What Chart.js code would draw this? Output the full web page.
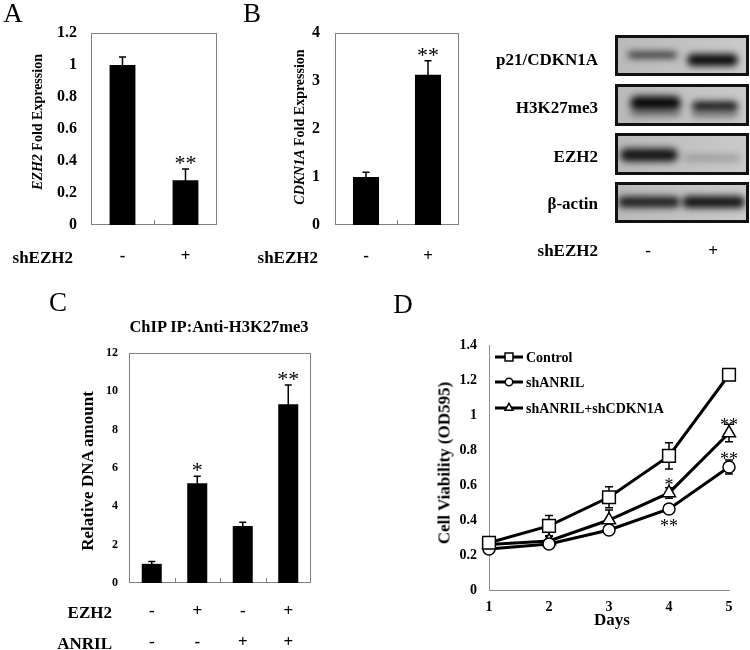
<!DOCTYPE html>
<html>
<head>
<meta charset="utf-8">
<script src="https://cdn.jsdelivr.net/npm/chart.js@4.4.1/dist/chart.umd.min.js"></script>
<style>
  body { margin: 0; background: #fff; }
  #fig { position: relative; width: 750px; height: 650px; overflow: hidden; background: #fff;
         font-family: 'Times New Roman', 'Liberation Serif', serif; color: #000; }
  #fig canvas { position: absolute; left: 0; top: 0; }
  #fig #blot { left: 610px; top: 30px; }
  .txt { position: absolute; white-space: nowrap; line-height: 1; font-weight: bold; }
</style>
</head>
<body>
<div id="fig">
  <canvas id="chartA" width="750" height="650"></canvas>
  <canvas id="chartB" width="750" height="650"></canvas>
  <canvas id="chartC" width="750" height="650"></canvas>
  <canvas id="chartD" width="750" height="650"></canvas>
  <canvas id="blot" width="140" height="200"></canvas>
</div>
<script>
// ---- data ----
// A: EZH2 expression
const shLabels = ['-', '+'];
const ezh2Expr = [1.0, 0.28];
const ezh2Err = [0.05, 0.07];
const ezh2Stars = ['', '**'];
// B: CDKN1A expression
const cdkn1aExpr = [1.0, 3.13];
const cdkn1aErr = [0.1, 0.29];
const cdkn1aStars = ['', '**'];
// C: ChIP
const chipEzh2 = ['-', '+', '-', '+'];
const chipAnril = ['-', '-', '+', '+'];
const chipDna = [1.0, 5.2, 2.97, 9.33];
const chipErr = [0.12, 0.37, 0.2, 1.0];
const chipStars = ['', '*', '', '**'];
// D: cell viability
const days = [1, 2, 3, 4, 5];
const viaControl = [0.27, 0.366, 0.53, 0.766, 1.23];
const viaShAnril = [0.234, 0.263, 0.343, 0.463, 0.703];
const viaShBoth = [0.26, 0.28, 0.40, 0.555, 0.897];
const errControl = [0.02, 0.06, 0.06, 0.075, 0.02];
const errShAnril = [0.02, 0.01, 0.02, 0.015, 0.04];
const errShBoth = [0.03, 0.03, 0.057, 0.03, 0.05];
const starsD = [
  { day: 4, od: 0.617, text: '*' },
  { day: 4, od: 0.383, text: '**' },
  { day: 5, od: 0.96, text: '**' },
  { day: 5, od: 0.766, text: '**' }
];
// blot
const blotRows = ['p21/CDKN1A', 'H3K27me3', 'EZH2', '\u03b2-actin'];

const SERIF = "'Times New Roman', 'Liberation Serif', serif";
Chart.defaults.font.family = SERIF;
Chart.defaults.color = '#000';

const valueOf = (d) => (typeof d === 'number' ? d : d.y);
const plainTick = (v) => String(parseFloat(Number(v).toFixed(2)));

// box around plot + small inner ticks between categories
const frame = {
  id: 'frame',
  beforeDatasetsDraw(chart) {
    const { ctx, chartArea: a, scales: { x } } = chart;
    ctx.save();
    ctx.strokeStyle = '#808080';
    ctx.lineWidth = 1;
    ctx.strokeRect(a.left + 0.5, a.top + 0.5, a.right - a.left - 1, a.bottom - a.top - 1);
    const n = chart.data.labels.length;
    for (let i = 1; i < n; i++) {
      const px = Math.round((x.getPixelForValue(i - 1) + x.getPixelForValue(i)) / 2) + 0.5;
      ctx.beginPath();
      ctx.moveTo(px, a.bottom);
      ctx.lineTo(px, a.bottom - 5);
      ctx.stroke();
    }
    ctx.restore();
  }
};

const errorBars = {
  id: 'errorBars',
  beforeDatasetsDraw(chart, args, opts) {
    const ctx = chart.ctx;
    const y = chart.scales.y;
    chart.data.datasets.forEach((ds, di) => {
      if (!ds.err) return;
      const meta = chart.getDatasetMeta(di);
      ctx.save();
      ctx.strokeStyle = '#000';
      ctx.lineWidth = opts.width || 1.5;
      meta.data.forEach((el, i) => {
        const e = ds.err[i];
        if (!e) return;
        const v = valueOf(ds.data[i]);
        const hi = y.getPixelForValue(v + e), lo = y.getPixelForValue(v - e);
        const c = opts.cap || 4;
        ctx.beginPath();
        ctx.moveTo(el.x, lo); ctx.lineTo(el.x, hi);
        ctx.moveTo(el.x - c, hi); ctx.lineTo(el.x + c, hi);
        ctx.moveTo(el.x - c, lo); ctx.lineTo(el.x + c, lo);
        ctx.stroke();
      });
      ctx.restore();
    });
  }
};

const barStars = {
  id: 'barStars',
  afterDatasetsDraw(chart) {
    const ctx = chart.ctx;
    const y = chart.scales.y;
    const ds = chart.data.datasets[0];
    const meta = chart.getDatasetMeta(0);
    ctx.save();
    ctx.font = '22px ' + SERIF;
    ctx.textAlign = 'center';
    ctx.textBaseline = 'alphabetic';
    ctx.fillStyle = '#000';
    meta.data.forEach((el, i) => {
      if (!ds.stars[i]) return;
      const top = y.getPixelForValue(ds.data[i] + ds.err[i]);
      ctx.fillText(ds.stars[i], el.x, top + 1);
    });
    ctx.restore();
  }
};

function barChart(id, box, labels, values, errs, stars, yMax, yStep, tickSize, tickPad, barPct, xPad, lineH) {
  const [left, top, right, bottom] = box;
  const yW = 60, xH = 70;
  return new Chart(document.getElementById(id), {
    type: 'bar',
    data: {
      labels: labels,
      datasets: [{ data: values, err: errs, stars: stars, backgroundColor: '#000', borderWidth: 0,
                   barPercentage: barPct, categoryPercentage: 1 }]
    },
    options: {
      responsive: false,
      animation: false,
      events: [],
      layout: { padding: { left: left - yW, top: top, right: 750 - right, bottom: 650 - bottom - xH } },
      plugins: { legend: { display: false }, tooltip: { enabled: false }, errorBars: { cap: 3.5, width: 1.5 } },
      scales: {
        x: {
          grid: { display: false, drawTicks: false },
          border: { display: false },
          ticks: { font: { size: 17, weight: 'bold', lineHeight: lineH }, padding: xPad, maxRotation: 0 },
          afterFit: (s) => { s.height = xH; }
        },
        y: {
          min: 0, max: yMax,
          grid: { display: false, drawTicks: false },
          border: { display: false },
          ticks: { stepSize: yStep, font: { size: tickSize, weight: 'bold' }, padding: tickPad, callback: plainTick },
          afterFit: (s) => { s.width = yW; }
        }
      }
    },
    plugins: [frame, errorBars, barStars]
  });
}

barChart('chartA', [91, 33, 217, 225], shLabels, ezh2Expr, ezh2Err, ezh2Stars, 1.2, 0.2, 16, 14, 0.41, 21, 1.2);
barChart('chartB', [335, 33, 459, 225], shLabels, cdkn1aExpr, cdkn1aErr, cdkn1aStars, 4, 1, 16, 15, 0.42, 21, 1.2);
barChart('chartC', [129, 353, 311, 583], chipEzh2.map((e, i) => [e, chipAnril[i]]), chipDna, chipErr, chipStars,
         12, 2, 12, 11, 0.44, 13, 31 / 17);

// ---- D: line chart ----
const lineLegend = {
  id: 'lineLegend',
  afterDatasetsDraw(chart) {
    const ctx = chart.ctx;
    const rows = [357, 382, 408];
    ctx.save();
    chart.data.datasets.forEach((ds, i) => {
      const yy = rows[i];
      ctx.strokeStyle = '#000';
      ctx.lineWidth = 3;
      ctx.beginPath(); ctx.moveTo(495, yy); ctx.lineTo(523, yy); ctx.stroke();
      ctx.fillStyle = '#fff';
      ctx.lineWidth = 1.5;
      Chart.helpers.drawPoint(ctx, { pointStyle: ds.pointStyle, radius: ds.pointRadius * 0.62, borderWidth: 1.5, rotation: 0 }, 509, yy);
      ctx.fillStyle = '#000';
      ctx.font = 'bold 14px ' + SERIF;
      ctx.textBaseline = 'middle';
      ctx.textAlign = 'left';
      ctx.fillText(ds.label, 526, yy + 1);
    });
    ctx.restore();
  }
};

const lineStars = {
  id: 'lineStars',
  afterDatasetsDraw(chart, args, opts) {
    const { ctx, scales: { x, y } } = chart;
    ctx.save();
    ctx.font = '18px ' + SERIF;
    ctx.textAlign = 'center';
    ctx.fillStyle = '#000';
    opts.items.forEach((s) => {
      ctx.fillText(s.text, x.getPixelForValue(s.day), y.getPixelForValue(s.od) + 9);
    });
    ctx.restore();
  }
};

function series(label, values, errs, style, radius) {
  return {
    label: label,
    data: days.map((d, i) => ({ x: d, y: values[i] })),
    err: errs,
    borderColor: '#000', borderWidth: 3,
    pointStyle: style, pointRadius: radius,
    pointBackgroundColor: '#fff', pointBorderColor: '#000', pointBorderWidth: 1.5,
    tension: 0, clip: false
  };
}

(function () {
  const yW = 60, xH = 40;
  new Chart(document.getElementById('chartD'), {
    type: 'line',
    data: {
      datasets: [
        series('Control', viaControl, errControl, 'rect', 9),
        series('shANRIL', viaShAnril, errShAnril, 'circle', 6),
        series('shANRIL+shCDKN1A', viaShBoth, errShBoth, 'triangle', 7.5)
      ]
    },
    options: {
      responsive: false,
      animation: false,
      events: [],
      layout: { padding: { left: 489 - yW, top: 345, right: 750 - 729, bottom: 650 - 590 - xH } },
      plugins: {
        legend: { display: false }, tooltip: { enabled: false },
        errorBars: { cap: 4, width: 1.5 },
        lineStars: { items: starsD }
      },
      scales: {
        x: {
          type: 'linear', min: 1, max: 5,
          grid: { display: false, drawTicks: false },
          border: { color: '#8c8c8c' },
          ticks: { stepSize: 1, font: { size: 14, weight: 'bold' }, padding: 9 },
          afterFit: (s) => { s.height = xH; }
        },
        y: {
          min: 0, max: 1.4,
          grid: { display: false, drawTicks: false },
          border: { color: '#8c8c8c' },
          ticks: { stepSize: 0.2, font: { size: 14, weight: 'bold' }, padding: 12, callback: plainTick },
          afterFit: (s) => { s.width = yW; }
        }
      }
    },
    plugins: [errorBars, lineStars, lineLegend]
  });
})();

// ---- western blot picture ----
(function drawBlot() {
  const ctx = document.getElementById('blot').getContext('2d');
  const ox = 610, oy = 30;
  const boxes = [[35, 76], [84, 126], [133, 175], [182, 223]];
  const bands = [
    [[628, 677, 55, 6, 0.85], [687, 738, 60, 12, 1.0]],
    [[630, 681, 103, 14, 1.0], [630, 681, 113, 7, 0.4], [692, 738, 106, 9, 0.95], [692, 738, 114, 8, 0.35]],
    [[620, 678, 155, 13, 0.95], [684, 740, 158, 7, 0.22]],
    [[618, 680, 202, 11, 0.9], [682, 745, 202, 12, 0.95]]
  ];
  boxes.forEach(([t, b], k) => {
    const x0 = 615 - ox, x1 = 749 - ox, y0 = t - oy, y1 = b - oy;
    ctx.save();
    ctx.beginPath(); ctx.rect(x0, y0, x1 - x0, y1 - y0); ctx.clip();
    const g = ctx.createLinearGradient(x0, 0, x1, 0);
    g.addColorStop(0, '#b9b9b9'); g.addColorStop(1, '#cacaca');
    ctx.fillStyle = g;
    ctx.fillRect(x0, y0, x1 - x0, y1 - y0);
    ctx.filter = 'blur(3.5px)';
    bands[k].forEach(([bx0, bx1, yc, h, a]) => {
      ctx.fillStyle = 'rgba(10,10,10,' + a + ')';
      ctx.beginPath();
      ctx.roundRect(bx0 - ox, yc - oy - h / 2, bx1 - bx0, h, h / 2);
      ctx.fill();
    });
    ctx.restore();
    ctx.strokeStyle = '#111';
    ctx.lineWidth = 3;
    ctx.strokeRect(x0 + 1.5, y0 + 1.5, x1 - x0 - 3, y1 - y0 - 3);
  });
})();

// ---- text ----
const texts = [
  // [html, x, y, size, anchor, rotated, weight]
  ['A', 13, 13, 27, 'c', false, 'normal'],
  ['B', 252, 13, 27, 'c', false, 'normal'],
  ['C', 58, 302, 27, 'c', false, 'normal'],
  ['D', 403, 304, 27, 'c', false, 'normal'],
  ['<i>EZH2</i> Fold Expression', 38, 122, 14, 'c', true],
  ['<i>CDKN1A</i> Fold Expression', 300, 127, 14, 'c', true],
  ['shEZH2', 73, 257, 17, 'r'],
  ['shEZH2', 318, 257, 17, 'r'],
  ['ChIP IP:Anti-H3K27me3', 219, 327, 16.5, 'c'],
  ['Relative DNA amount', 87, 471, 17, 'c', true],
  ['EZH2', 112, 612, 17, 'r'],
  ['ANRIL', 112, 643, 17, 'r'],
  ['Cell Viability (OD595)', 444, 463, 17, 'c', true],
  ['Days', 612, 619, 17, 'c'],
  ['shEZH2', 598, 250, 17, 'r'],
  ['-', 648, 250, 17, 'c'],
  ['+', 713, 250, 17, 'c']
];
const blotY = [59, 107, 156, 203];
blotRows.forEach((r, i) => texts.push([r, 598, blotY[i], 17, 'r']));

const fig = document.getElementById('fig');
texts.forEach(([html, x, y, size, anchor, rot, weight]) => {
  const d = document.createElement('div');
  d.className = 'txt';
  d.innerHTML = html;
  d.style.left = x + 'px';
  d.style.top = y + 'px';
  d.style.fontSize = size + 'px';
  if (weight) d.style.fontWeight = weight;
  let tf = anchor === 'r' ? 'translate(-100%,-50%)' : 'translate(-50%,-50%)';
  if (rot) tf += ' rotate(-90deg)';
  d.style.transform = tf;
  fig.appendChild(d);
});
</script>
</body>
</html>
